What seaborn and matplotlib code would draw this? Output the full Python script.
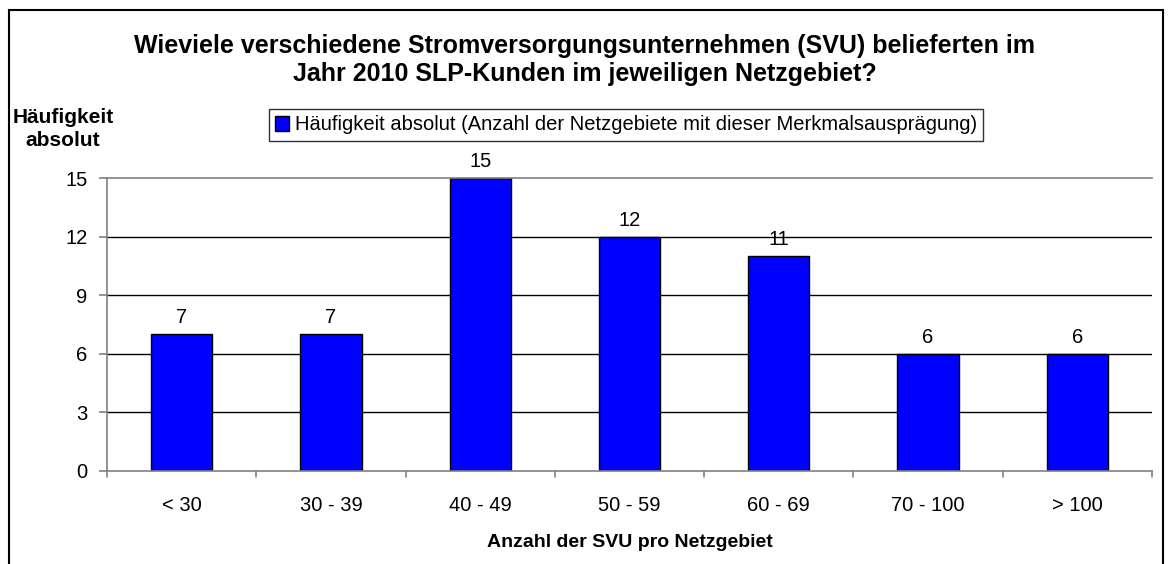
import matplotlib
matplotlib.use("Agg")
import matplotlib.pyplot as plt
import seaborn as sns
import pandas as pd
from matplotlib.patches import Rectangle

categories = ["< 30", "30 - 39", "40 - 49", "50 - 59", "60 - 69", "70 - 100", "> 100"]
values = [7, 7, 15, 12, 11, 6, 6]
y_ticks = [0, 3, 6, 9, 12, 15]
series_name = "Häufigkeit absolut (Anzahl der Netzgebiete mit dieser Merkmalsausprägung)"
title = "Wieviele verschiedene Stromversorgungsunternehmen (SVU) belieferten im\nJahr 2010 SLP-Kunden im jeweiligen Netzgebiet?"
x_label = "Anzahl der SVU pro Netzgebiet"
y_label = "Häufigkeit\nabsolut"

sns.set_theme(style="white")
plt.rcParams["font.family"] = ["Liberation Sans", "DejaVu Sans"]
plt.rcParams["text.color"] = "black"
plt.rcParams["xtick.color"] = "black"
plt.rcParams["ytick.color"] = "black"
plt.rcParams["axes.labelcolor"] = "black"

W, H = 1168, 564
fig = plt.figure(figsize=(W / 100, H / 100), dpi=100)
ax = fig.add_axes([107 / W, 1 - 471 / H, (1152 - 107) / W, (471 - 178) / H])

df = pd.DataFrame({"cat": categories, "val": values, "series": series_name})
sns.barplot(data=df, x="cat", y="val", hue="series", palette=["#0000FF"], saturation=1,
            width=0.41, edgecolor="black", linewidth=1.0, ax=ax, legend=False)

ax.set_xlim(-0.5, len(categories) - 0.5)
ax.set_ylim(0, 15)
ax.set_yticks(y_ticks)
ax.set_yticklabels([str(v) for v in y_ticks], fontsize=14.5)
for v in y_ticks[1:-1]:
    ax.axhline(v, color="black", linewidth=1.0, zorder=0)

ax.set_xticks(range(len(categories)))
ax.set_xticklabels(categories, fontsize=14.5)
ax.tick_params(axis="x", length=0, pad=18)
for b in [i - 0.5 for i in range(len(categories) + 1)]:
    ax.plot([b, b], [0, -0.022], transform=ax.get_xaxis_transform(), color="#808080",
            linewidth=1.2, clip_on=False)
ax.tick_params(axis="y", length=6, color="#808080", width=1.2, left=True, pad=8)

for s in ["left", "bottom", "top"]:
    ax.spines[s].set_color("#808080")
    ax.spines[s].set_linewidth(1.2)
ax.spines["right"].set_visible(False)

ax.set_xlabel(x_label, fontsize=14, fontweight="bold", labelpad=14)
ax.set_ylabel("")

for i, v in enumerate(values):
    ax.text(i, v + 0.35, str(v), ha="center", va="bottom", fontsize=14.5)

fig.text(585 / W, 1 - 60 / H, title, ha="center", va="center", fontsize=18,
         fontweight="bold", linespacing=1.2)
fig.text(63 / W, 1 - 129 / H, y_label, ha="center", va="center", fontsize=15,
         fontweight="bold", linespacing=1.25)

handle = Rectangle((0, 0), 1, 1, facecolor="#0000FF", edgecolor="black", linewidth=1)
leg = fig.legend([handle], [series_name], loc="center", bbox_to_anchor=(626 / W, 1 - 125 / H),
                 fontsize=14.5, frameon=True, fancybox=False, edgecolor="black",
                 handlelength=0.7, handleheight=0.7, handletextpad=0.3, borderpad=0.3,
                 borderaxespad=0)
leg.get_frame().set_linewidth(1.0)

fig.patches.append(Rectangle((9 / W, -0.05), (1163 - 9) / W, 1.05 - 10 / H,
                             transform=fig.transFigure, fill=False, edgecolor="black",
                             linewidth=1.5))

fig.savefig("out.png", dpi=100)
